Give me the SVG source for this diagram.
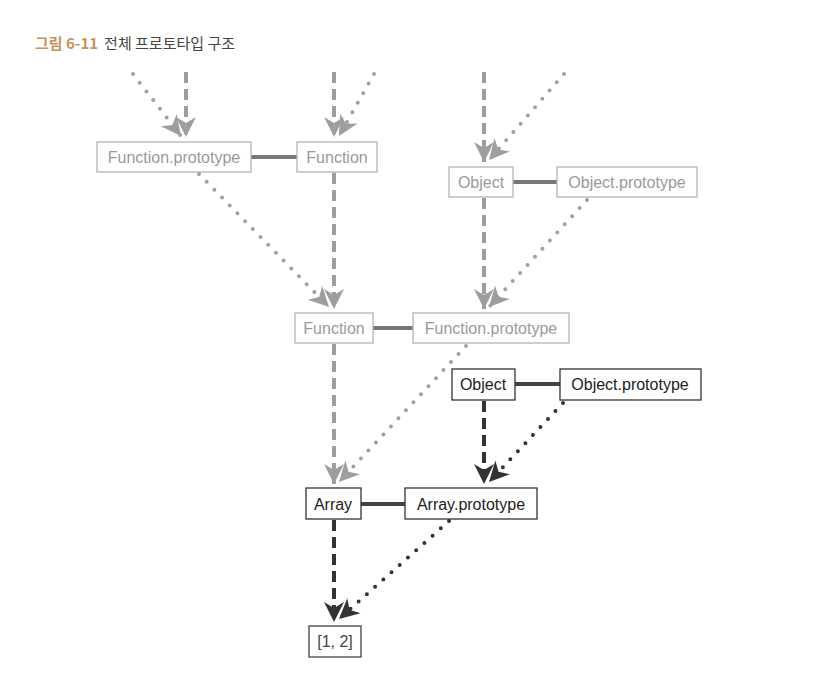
<svg xmlns="http://www.w3.org/2000/svg" width="836" height="674" viewBox="0 0 836 674">
<style>
.bg{fill:#fff}
.lbox{fill:#fff;stroke:#b4b4b4;stroke-width:1.3}
.dbox{fill:#fff;stroke:#333;stroke-width:1.3}
.lt{font-family:"Liberation Sans",Arial,sans-serif;font-size:16px;fill:#9a9a9a;text-anchor:middle}
.dt{font-family:"Liberation Sans",Arial,sans-serif;font-size:16px;fill:#222;text-anchor:middle}
.ldash{stroke:#9e9e9e;stroke-width:4;stroke-dasharray:11 6;fill:none}
.ddash{stroke:#333;stroke-width:4;stroke-dasharray:11 6;fill:none}
.ldot{stroke:#a0a0a0;stroke-width:4;stroke-dasharray:0 11;stroke-linecap:round;fill:none}
.ddot{stroke:#333;stroke-width:4;stroke-dasharray:0 11;stroke-linecap:round;fill:none}
.llink{stroke:#777;stroke-width:4}
.dlink{stroke:#444;stroke-width:4}
.title{font-family:"Noto Sans CJK KR","Noto Sans",sans-serif;font-size:15px}
</style>
<defs>
<marker id="la" markerUnits="userSpaceOnUse" markerWidth="26" markerHeight="26" viewBox="-2 -13 26 26" refX="20" refY="0" orient="auto">
<path d="M0,-10 L20,0 L0,10 L6,0 z" fill="#9e9e9e"/>
</marker>
<marker id="da" markerUnits="userSpaceOnUse" markerWidth="26" markerHeight="26" viewBox="-2 -13 26 26" refX="20" refY="0" orient="auto">
<path d="M0,-10 L20,0 L0,10 L6,0 z" fill="#333"/>
</marker>
</defs>
<rect class="bg" x="0" y="0" width="836" height="674"/>
<text class="title" x="35" y="49"><tspan fill="#c8925a" font-weight="bold">그림 6-11</tspan><tspan fill="#444" dx="6">전체 프로토타입 구조</tspan></text>

<g id="connectors">
<line class="llink" x1="251" y1="157" x2="297" y2="157"/>
<line class="llink" x1="513" y1="182" x2="557" y2="182"/>
<line class="llink" x1="373" y1="328" x2="413" y2="328"/>
<line class="dlink" x1="515" y1="384" x2="560" y2="384"/>
<line class="dlink" x1="361" y1="504" x2="405" y2="504"/>

<line class="ldash" x1="186" y1="72" x2="186" y2="137" marker-end="url(#la)"/>
<line class="ldot" x1="133" y1="74" x2="181" y2="136" marker-end="url(#la)"/>
<line class="ldash" x1="334" y1="72" x2="334" y2="137" marker-end="url(#la)"/>
<line class="ldot" x1="374" y1="74" x2="339" y2="136" marker-end="url(#la)"/>
<line class="ldash" x1="484" y1="72" x2="484" y2="162" marker-end="url(#la)"/>
<line class="ldot" x1="564" y1="74" x2="489" y2="160" marker-end="url(#la)"/>

<line class="ldash" x1="334" y1="173" x2="334" y2="309" marker-end="url(#la)"/>
<line class="ldot" x1="199" y1="174" x2="329" y2="307" marker-end="url(#la)"/>
<line class="ldash" x1="484" y1="198" x2="484" y2="309" marker-end="url(#la)"/>
<line class="ldot" x1="587" y1="200" x2="489" y2="307" marker-end="url(#la)"/>

<line class="ldash" x1="334" y1="344" x2="334" y2="484" marker-end="url(#la)"/>
<line class="ldot" x1="466" y1="346" x2="339" y2="482" marker-end="url(#la)"/>
<line class="ddash" x1="484" y1="401" x2="484" y2="484" marker-end="url(#da)"/>
<line class="ddot" x1="563" y1="403" x2="489" y2="482" marker-end="url(#da)"/>

<line class="ddash" x1="334" y1="520" x2="334" y2="622" marker-end="url(#da)"/>
<line class="ddot" x1="449" y1="521" x2="339" y2="619" marker-end="url(#da)"/>
</g>

<g id="fp1"><rect class="lbox" x="97" y="142" width="154" height="30"/><text class="lt" x="174" y="163">Function.prototype</text></g>
<g id="f1"><rect class="lbox" x="297" y="142" width="80" height="30"/><text class="lt" x="337" y="163">Function</text></g>
<g id="o1"><rect class="lbox" x="449" y="167" width="64" height="30"/><text class="lt" x="481" y="188">Object</text></g>
<g id="op1"><rect class="lbox" x="557" y="167" width="140" height="30"/><text class="lt" x="627" y="188">Object.prototype</text></g>
<g id="f2"><rect class="lbox" x="295" y="313" width="78" height="30"/><text class="lt" x="334" y="334">Function</text></g>
<g id="fp2"><rect class="lbox" x="413" y="313" width="156" height="30"/><text class="lt" x="491" y="334">Function.prototype</text></g>
<g id="o2"><rect class="dbox" x="452" y="369" width="63" height="31"/><text class="dt" x="483" y="390">Object</text></g>
<g id="op2"><rect class="dbox" x="560" y="369" width="141" height="31"/><text class="dt" x="630" y="390">Object.prototype</text></g>
<g id="arr"><rect class="dbox" x="306" y="488" width="55" height="31"/><text class="dt" x="333" y="510">Array</text></g>
<g id="arrp"><rect class="dbox" x="405" y="488" width="132" height="31"/><text class="dt" x="471" y="510">Array.prototype</text></g>
<g id="inst"><rect class="lbox" x="309" y="626" width="52" height="31" style="stroke:#444"/><text class="dt" x="335" y="647" style="fill:#444">[1, 2]</text></g>
</svg>
